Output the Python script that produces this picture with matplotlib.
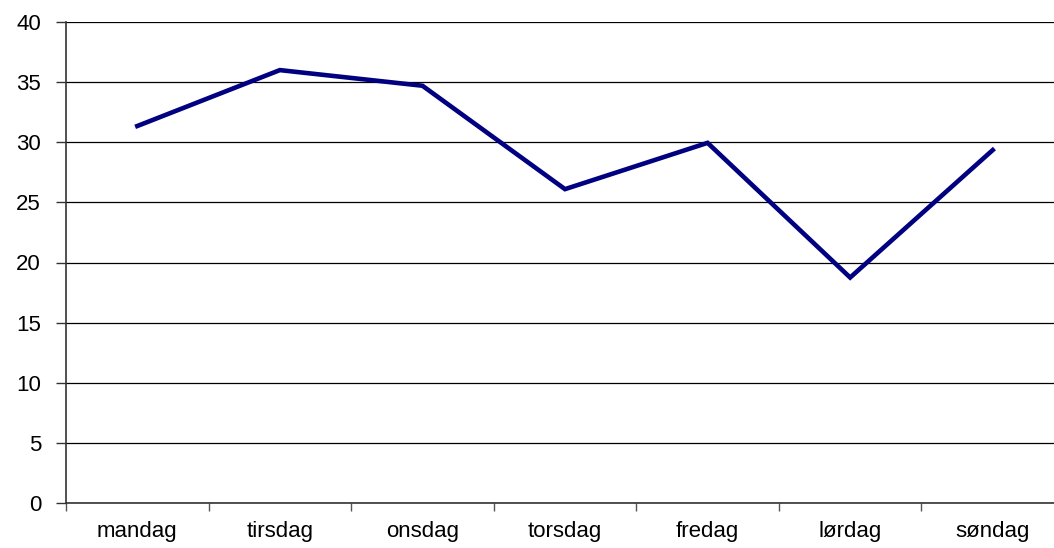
import matplotlib
matplotlib.use("Agg")
import matplotlib.pyplot as plt
import numpy as np

dager = ["mandag", "tirsdag", "onsdag", "torsdag", "fredag", "lørdag", "søndag"]
verdier = [31.35, 36.0, 34.7, 26.1, 29.95, 18.75, 29.35]
yticks = [0, 5, 10, 15, 20, 25, 30, 35, 40]

plt.rcParams['font.family'] = ['Liberation Sans', 'DejaVu Sans']

fig = plt.figure(figsize=(10.54, 5.48), dpi=100)
ax = fig.add_axes([66/1054, 45/548, 998/1054, 481/548])

x = np.arange(len(dager))
ax.plot(x, verdier, color="#000080", lw=3.3, solid_joinstyle="miter", zorder=3)

ax.set_xlim(-0.5, len(dager) - 0.5)
ax.set_ylim(0, 40)
ax.set_yticks(yticks)
ax.yaxis.grid(True, color="black", lw=0.9)
ax.set_axisbelow(True)

# kategorinavn midt i hver kategori, tick-streker mellom kategoriene
ax.set_xticks(x)
ax.set_xticklabels(dager, fontsize=16)
ax.set_xticks(np.arange(len(dager) + 1) - 0.5, minor=True)
ax.tick_params(axis="x", which="major", length=0, pad=13)
ax.tick_params(axis="x", which="minor", length=6, width=1, color="#555555")
ax.tick_params(axis="y", length=7, width=1, pad=11, labelsize=16, color="#333333")

for s in ["top", "right"]:
    ax.spines[s].set_visible(False)
ax.spines["left"].set_color("#333333")
ax.spines["bottom"].set_color("#333333")
ax.spines["left"].set_linewidth(1.2)
ax.spines["bottom"].set_linewidth(1.2)

fig.savefig("out.png", dpi=100)
